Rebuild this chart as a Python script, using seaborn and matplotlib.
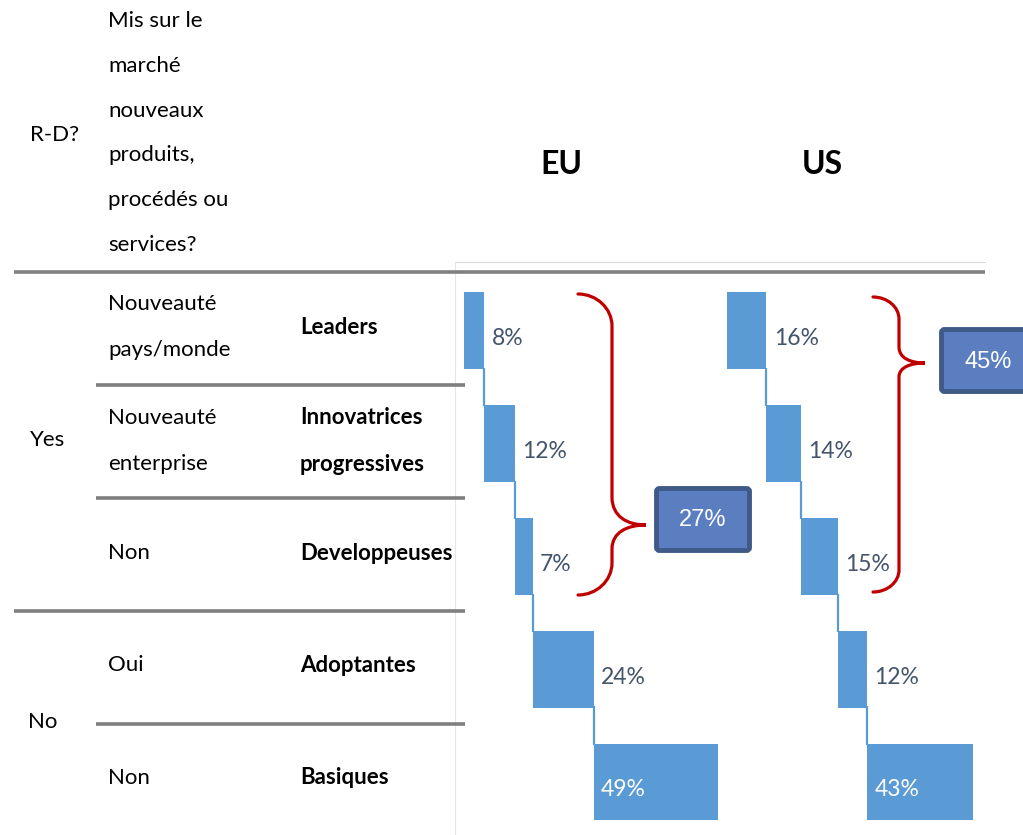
import numpy as np
import pandas as pd
import matplotlib
matplotlib.use("Agg")
import matplotlib.pyplot as plt
import seaborn as sns
from matplotlib.path import Path
from matplotlib.patches import PathPatch, FancyBboxPatch

# ---------------- data ----------------
categories = ["Leaders", "Innovatrices progressives", "Developpeuses", "Adoptantes", "Basiques"]
category_labels = ["Leaders", "Innovatrices\nprogressives", "Developpeuses", "Adoptantes", "Basiques"]
market_labels = ["Nouveauté\npays/monde", "Nouveauté\nenterprise", "Non", "Oui", "Non"]
rd_labels = ["Yes", "No"]
eu_values = [8, 12, 7, 24, 49]
us_values = [16, 14, 15, 12, 43]
regions = ["EU", "US"]
header_rd = "R-D?"
header_market = "Mis sur le\nmarché\nnouveaux\nproduits,\nprocédés ou\nservices?"

# ---------------- style ----------------
sns.set_theme(style="white")
plt.rcParams["font.family"] = ["Lato", "DejaVu Sans"]

BLUE = "#5B9BD5"
LABEL = "#44546A"
GRAY = "#7F7F7F"
RED = "#C00000"
BOX_FC = "#5A7EBF"
BOX_EC = "#3F5A87"

W, H = 1023, 835
fig = plt.figure(figsize=(W / 100, H / 100), dpi=100, facecolor="white")

ROW_PX = 112.9
AX_TOP = 274
FS = 16


def waterfall(left_px, width_px, values):
    ax = fig.add_axes([left_px / W, 0, width_px / W, (H - AX_TOP) / H], facecolor="none")
    vals = np.array(values)
    ends = np.cumsum(vals)
    starts = ends - vals
    df = pd.DataFrame({"cat": categories, "end": ends, "start": starts})
    sns.barplot(data=df, x="end", y="cat", orient="h", color=BLUE, saturation=1,
                width=0.68, edgecolor="none", linewidth=0, ax=ax)
    sns.barplot(data=df, x="start", y="cat", orient="h", color="white", saturation=1,
                width=0.72, edgecolor="none", linewidth=0, ax=ax)
    idx = np.arange(len(vals))
    ax.vlines(ends[:-1], idx[:-1] + 0.33, idx[1:] - 0.33, color=BLUE, lw=1.6, zorder=4)
    for i, (s, e, v) in enumerate(zip(starts, ends, vals)):
        if i < len(vals) - 1:
            ax.text(e + 3, i + 0.07, f"{v}%", ha="left", va="center", color=LABEL, fontsize=16.5)
        else:
            ax.text(s + 3, i + 0.07, f"{v}%", ha="left", va="center", color="white", fontsize=16.5)
    ax.set_xlim(0, 100)
    ax.set_ylim(-0.5 + (H - AX_TOP) / ROW_PX, -0.5)
    ax.axis("off")
    return ax


ax_eu = waterfall(464, 254, eu_values)
ax_us = waterfall(727, 246, us_values)

# ---------------- overlay (table, braces, boxes) ----------------
ov = fig.add_axes([0, 0, 1, 1], facecolor="none")
ov.set_xlim(0, W)
ov.set_ylim(H, 0)
ov.axis("off")

# faint chart frame
ov.plot([455, 985], [262, 262], color="#D9D9D9", lw=0.8)
ov.plot([455, 455], [262, 835], color="#E6E6E6", lw=0.8)

# table rules
for x0, x1, y in [(14, 985, 272), (96, 465, 385), (96, 465, 498), (14, 465, 611), (96, 465, 724)]:
    ov.plot([x0, x1], [y, y], color=GRAY, lw=2.6, solid_capstyle="butt")

# headers
ov.text(30, 135, header_rd, ha="left", va="center", fontsize=FS, color="black")
ov.text(108, 133, header_market, ha="left", va="center", fontsize=FS, color="black", linespacing=2.56)
for name, x in zip(regions, [561, 822]):
    ov.text(x, 165, name, ha="center", va="center", fontsize=23, fontweight="bold", color="black")

# row texts
row_y = [327, 441, 553, 665, 778]
for y, m, c in zip(row_y, market_labels, category_labels):
    ov.text(108, y, m, ha="left", va="center", fontsize=FS, color="black", linespacing=2.6)
    ov.text(300, y, c, ha="left", va="center", fontsize=FS, fontweight="bold", color="black",
            linespacing=2.5)
ov.text(30, 440, rd_labels[0], ha="left", va="center", fontsize=FS, color="black")
ov.text(28, 722, rd_labels[1], ha="left", va="center", fontsize=FS, color="black")


def brace(tip_x, spine_x, point_x, top, bottom, mid, r_end, r_up, r_dn):
    k = 0.55
    half = (point_x - spine_x) * 0.55
    verts = [
        (tip_x, top),
        (tip_x + (spine_x - tip_x) * k, top), (spine_x, top + r_end * (1 - k)), (spine_x, top + r_end),
        (spine_x, mid - r_up),
        (spine_x, mid - r_up * 0.3), (point_x - half, mid), (point_x, mid),
        (point_x - half, mid), (spine_x, mid + r_dn * 0.3), (spine_x, mid + r_dn),
        (spine_x, bottom - r_end),
        (spine_x, bottom - r_end * (1 - k)), (tip_x + (spine_x - tip_x) * k, bottom), (tip_x, bottom),
    ]
    codes = [Path.MOVETO] + [Path.CURVE4] * 3 + [Path.LINETO] + [Path.CURVE4] * 6 + \
            [Path.LINETO] + [Path.CURVE4] * 3
    ov.add_patch(PathPatch(Path(verts, codes), fill=False, ec=RED, lw=2.3, capstyle="round"))


def total_box(x, y, w, h, text):
    ov.add_patch(FancyBboxPatch((x, y), w, h, boxstyle="round,pad=0,rounding_size=3",
                                fc=BOX_FC, ec=BOX_EC, lw=3.5, clip_on=False))
    ov.text(x + w / 2, y + h / 2 + 1, text, ha="center", va="center", color="white",
            fontsize=17, family=["Liberation Sans", "DejaVu Sans"])


brace(578, 612, 646, 294, 595, 525, 32, 28, 24)
brace(873, 899, 925, 297, 592, 363, 22, 16, 14)
total_box(656.5, 488.5, 93, 62, f"{sum(eu_values[:3])}%")
total_box(941.5, 329.5, 93, 62, f"{sum(us_values[:3])}%")

fig.savefig("out.png", dpi=100, facecolor="white")
